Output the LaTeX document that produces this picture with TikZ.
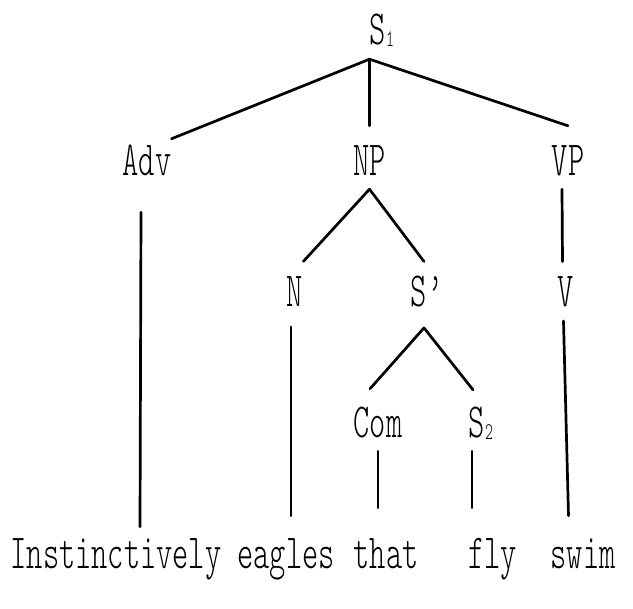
\documentclass[tikz,border=0pt]{standalone}
\usepackage{fontspec}
\newfontfamily\treefont[FakeStretch=0.63]{lmmonolt10-regular.otf}
\usepackage{tikz}
\usetikzlibrary{calc}
\newcommand\lowidx[1]{\raisebox{-2pt}{\fontsize{24}{24}\selectfont #1}}
\tikzset{
	cat/.style={font=\fontsize{49}{50}\selectfont\treefont, anchor=base,
		inner sep=0pt, text height=30pt, text depth=0pt},
	branch/.style={line width=2.7pt, line cap=round}
}

\begin{document}
\begin{tikzpicture}[x=1pt, y=-1pt]
	\useasboundingbox (0,0) rectangle (633,609);
	% categories
	\node[cat] (S1) at (382,45) {S\lowidx{1}};
	\node[cat] (Adv) at (147,176) {Adv};
	\node[cat] (NP) at (369.5,176) {NP};
	\node[cat] (VP) at (568,176) {VP};
	\node[cat] (N) at (295,306.7) {N};
	\node[cat] (Sbar) at (427,306.7) {S’};
	\node[cat] (V) at (565.5,306.7) {V};
	\node[cat] (Com) at (378,438) {Com};
	\node[cat] (S2) at (481,438) {S\lowidx{2}};
	% words
	\node[cat] (instinct) at (116,569) {Instinctively};
	\node[cat] (eagles) at (286,569) {eagles};
	\node[cat] (that) at (386,569) {that};
	\node[cat] (fly) at (492.5,569) {fly};
	\node[cat] (swim) at (583,569) {swim};
	% branches
	\coordinate (top) at ([yshift=-14pt]S1.south -| NP.north);
	\draw[branch] (top) -- ([yshift=7pt]Adv.north east);
	\draw[branch] (top) -- ([yshift=20pt]NP.north);
	\draw[branch] (top) -- ([yshift=20pt]VP.north);
	\draw[branch] ([xshift=-6pt,yshift=-36pt]Adv.south) -- ([xshift=-7pt,yshift=12pt]Adv.south |- instinct.north);
	\draw[branch] ([yshift=-13pt]NP.south) -- ([yshift=15pt]N.north east);
	\draw[branch] ([yshift=-13pt]NP.south) -- ([xshift=-3pt,yshift=15pt]Sbar.north);
	\draw[branch] ([xshift=-6pt,yshift=-13pt]VP.south) -- ([xshift=-3pt,yshift=15pt]V.north);
	\draw[branch] ([xshift=-4pt,yshift=-20pt]N.south) -- ([xshift=-4pt,yshift=23pt]N.south |- eagles.north);
	\draw[branch] ([xshift=-3pt,yshift=-21pt]Sbar.south) -- ([xshift=-8pt,yshift=19pt]Com.north);
	\draw[branch] ([xshift=-3pt,yshift=-21pt]Sbar.south) -- ([xshift=-8pt,yshift=18pt]S2.north);
	\draw[branch] ([xshift=-2pt,yshift=-14pt]V.south) -- ([xshift=3pt,yshift=23pt]V.south |- swim.north);
	\draw[branch] ([yshift=-13pt]Com.south) -- ([yshift=31pt]Com.south |- that.north);
	\draw[branch] ([xshift=-9pt,yshift=-13pt]S2.south) -- ([xshift=-9pt,yshift=31pt]S2.south |- fly.north);
\end{tikzpicture}
\end{document}
